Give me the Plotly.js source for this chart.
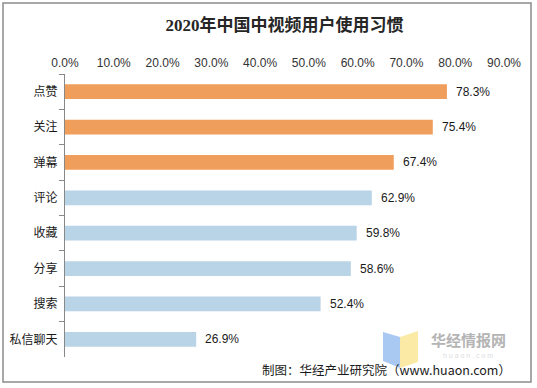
<!DOCTYPE html>
<html>
<head>
<meta charset="utf-8">
<script src="https://cdn.plot.ly/plotly-3.0.1.min.js"></script>
<style>
html,body{margin:0;padding:0;background:#fff;}
#chart{width:537px;height:388px;}
</style>
</head>
<body>
<div id="chart"></div>
<script>
const categories = ["点赞","关注","弹幕","评论","收藏","分享","搜索","私信聊天"];
const values = [78.3, 75.4, 67.4, 62.9, 59.8, 58.6, 52.4, 26.9];
const highlightCount = 3;
const tickValues = [0,10,20,30,40,50,60,70,80,90];
const tickLabels = ["0.0%","10.0%","20.0%","30.0%","40.0%","50.0%","60.0%","70.0%","80.0%","90.0%"];
const titleText = "2020年中国中视频用户使用习惯";
const sourceText = "制图：华经产业研究院（www.huaon.com）";

const ORANGE = "#F09E5C";
const BLUE = "#B9D4E6";
const colors = values.map((v,i) => i < highlightCount ? ORANGE : BLUE);

const fontLatin = "'Liberation Sans', Arial, 'Noto Sans CJK SC', sans-serif";

// plot area pixel geometry for paper-coordinate decorations
const W = 537, H = 388;
const L = 65, R = 504, T = 74, B = 357;
const px = x => (x - L) / (R - L);
const py = y => (B - y) / (B - T);

const trace = {
  type: "bar",
  orientation: "h",
  x: values,
  y: categories,
  marker: {color: colors},
  hoverinfo: "none"
};

const annotations = values.map((v,i) => ({
  x: v, y: categories[i], xref: "x", yref: "y",
  text: v.toFixed(1) + "%",
  showarrow: false, xanchor: "left", yanchor: "middle", xshift: 7,
  font: {family: fontLatin, size: 12, color: "#1a1a1a"}
}));

annotations.push({
  xref: "paper", yref: "paper", x: px(513), y: py(369),
  xanchor: "right", yanchor: "middle", showarrow: false,
  text: sourceText,
  font: {family: "'Noto Sans CJK SC', sans-serif", size: 12.5, color: "#1a1a1a"}
});
annotations.push({
  xref: "paper", yref: "paper", x: px(468), y: py(339),
  xanchor: "center", yanchor: "middle", showarrow: false,
  text: "<b>华经情报网</b>",
  font: {family: "'Noto Sans CJK SC', sans-serif", size: 15, color: "#b4b4b4"}
});
annotations.push({
  xref: "paper", yref: "paper", x: px(468), y: py(355.5),
  xanchor: "center", yanchor: "middle", showarrow: false,
  text: "h u a o n . c o m",
  font: {family: fontLatin, size: 7, color: "#dcdcdc"}
});

function poly(pts){
  return "M " + pts.map(p => px(p[0]).toFixed(4) + "," + py(p[1]).toFixed(4)).join(" L ") + " Z";
}

const shapes = [
  {type: "rect", xref: "paper", yref: "paper", layer: "below",
   x0: px(3), x1: px(531), y0: py(3), y1: py(382),
   line: {color: "#8c8c8c", width: 1.5}, fillcolor: "rgba(0,0,0,0)"},
  {type: "path", xref: "paper", yref: "paper", layer: "below",
   path: poly([[383,332],[400,337],[400,368],[383,361]]),
   fillcolor: "#A9C9F2", line: {width: 0}},
  {type: "path", xref: "paper", yref: "paper", layer: "below",
   path: poly([[400,337],[418,331],[418,362],[400,368]]),
   fillcolor: "#FBEAA6", line: {width: 0}}
];

const layout = {
  width: W, height: H,
  margin: {l: L, r: W - R, t: T, b: H - B, pad: 0},
  paper_bgcolor: "#ffffff",
  plot_bgcolor: "rgba(0,0,0,0)",
  showlegend: false,
  bargap: 0.58,
  title: {
    text: "<b>" + titleText + "</b>",
    x: 0.5, xref: "paper", xanchor: "center",
    y: 1 - 25 / H, yref: "container", yanchor: "middle",
    font: {family: "'Liberation Serif', 'Noto Sans CJK SC', serif", size: 17, color: "#262626"}
  },
  xaxis: {
    side: "top",
    range: [0, 90],
    tickvals: tickValues,
    ticktext: tickLabels,
    showgrid: false, zeroline: false, showline: false,
    ticks: "",
    ticklabelstandoff: 4,
    tickfont: {family: fontLatin, size: 12, color: "#333333"},
    fixedrange: true
  },
  yaxis: {
    type: "category",
    categoryorder: "array",
    categoryarray: categories,
    autorange: "reversed",
    showgrid: false, zeroline: false,
    showline: true, linecolor: "#888888", linewidth: 1,
    ticks: "outside", ticklen: 5, tickcolor: "#888888", tickwidth: 1,
    tickson: "boundaries",
    ticklabelstandoff: 4,
    tickfont: {family: "'Noto Sans CJK SC', sans-serif", size: 12, color: "#1a1a1a"},
    fixedrange: true
  },
  annotations: annotations,
  shapes: shapes
};

Plotly.newPlot("chart", [trace], layout, {displayModeBar: false, staticPlot: true});
</script>
</body>
</html>
